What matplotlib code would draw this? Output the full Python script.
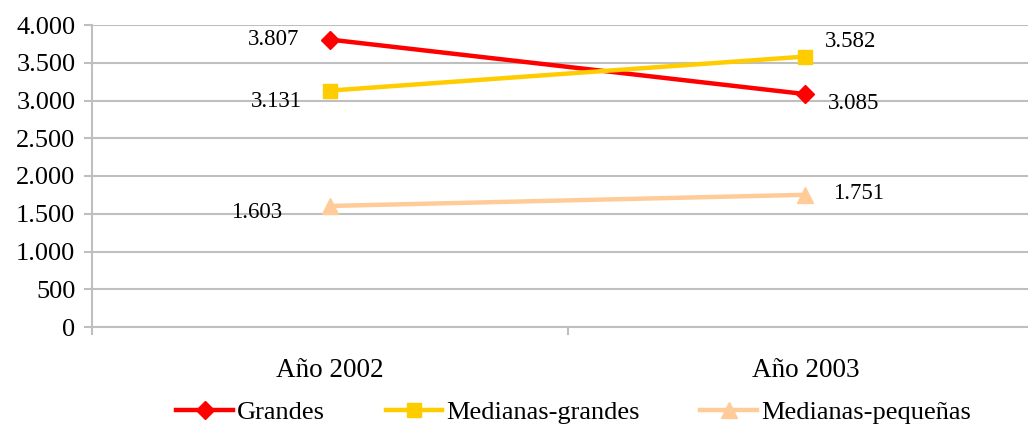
import matplotlib.pyplot as plt
from matplotlib.ticker import FuncFormatter

years = ["Año 2002", "Año 2003"]
grandes = [3807, 3085]
medianas_grandes = [3131, 3582]
medianas_pequenas = [1603, 1751]

plt.rcParams['font.family'] = ['Liberation Serif', 'DejaVu Serif']

fig = plt.figure(figsize=(10.28, 4.32), dpi=100)
ax = fig.add_axes([92 / 1028, 105 / 432, 951 / 1028, 302 / 432])

x = range(len(years))
series = [
    ("Grandes", grandes, "#FF0000", "D", 9),
    ("Medianas-grandes", medianas_grandes, "#FFCC00", "s", 10),
    ("Medianas-pequeñas", medianas_pequenas, "#FFCC99", "^", 11),
]
for name, vals, color, marker, ms in series:
    ax.plot(x, vals, color=color, lw=3.2, marker=marker, markersize=ms,
            label=name, zorder=3)

# value labels: left of the first point, right of the second
offsets = {
    "Grandes": [(-22, 0), (16, -7)],
    "Medianas-grandes": [(-20, -7.5), (14, 10.5)],
    "Medianas-pequeñas": [(-34, -4.5), (20, 1)],
}
for name, vals, color, marker, ms in series:
    for i, v in enumerate(vals):
        dx, dy = offsets[name][i]
        ha = "right" if dx < 0 else "left"
        ax.annotate(f"{v:,}".replace(",", "."), (i, v), xytext=(dx, dy),
                    textcoords="offset points", ha=ha, va="center",
                    fontsize=16.5)

ax.set_xlim(-0.5, 1.5)
ax.set_ylim(0, 4000)
ax.set_yticks(range(0, 4001, 500))
ax.yaxis.set_major_formatter(FuncFormatter(lambda v, p: f"{int(v):,}".replace(",", ".")))
ax.set_xticks([0, 1])
ax.set_xticklabels(years)
ax.set_xticks([-0.5, 0.5, 1.5], minor=True)
ax.tick_params(axis="x", which="major", length=0, pad=22, labelsize=19.5)
ax.tick_params(axis="x", which="minor", length=6, width=1.5, color="#BFBFBF")
ax.tick_params(axis="y", length=6, width=1.5, color="#BFBFBF", labelsize=19, pad=6)

ax.grid(axis="y", color="#BFBFBF", lw=1.5)
ax.set_axisbelow(True)
for s in ["top", "right"]:
    ax.spines[s].set_visible(False)
for s in ["left", "bottom"]:
    ax.spines[s].set_color("#BFBFBF")
    ax.spines[s].set_linewidth(1.5)

fig.legend(loc="center", bbox_to_anchor=(0.558, 0.045), ncol=3, frameon=False,
           fontsize=19, handlelength=2.15, handletextpad=0.15, columnspacing=2.3)

fig.savefig("out.png", dpi=100)
